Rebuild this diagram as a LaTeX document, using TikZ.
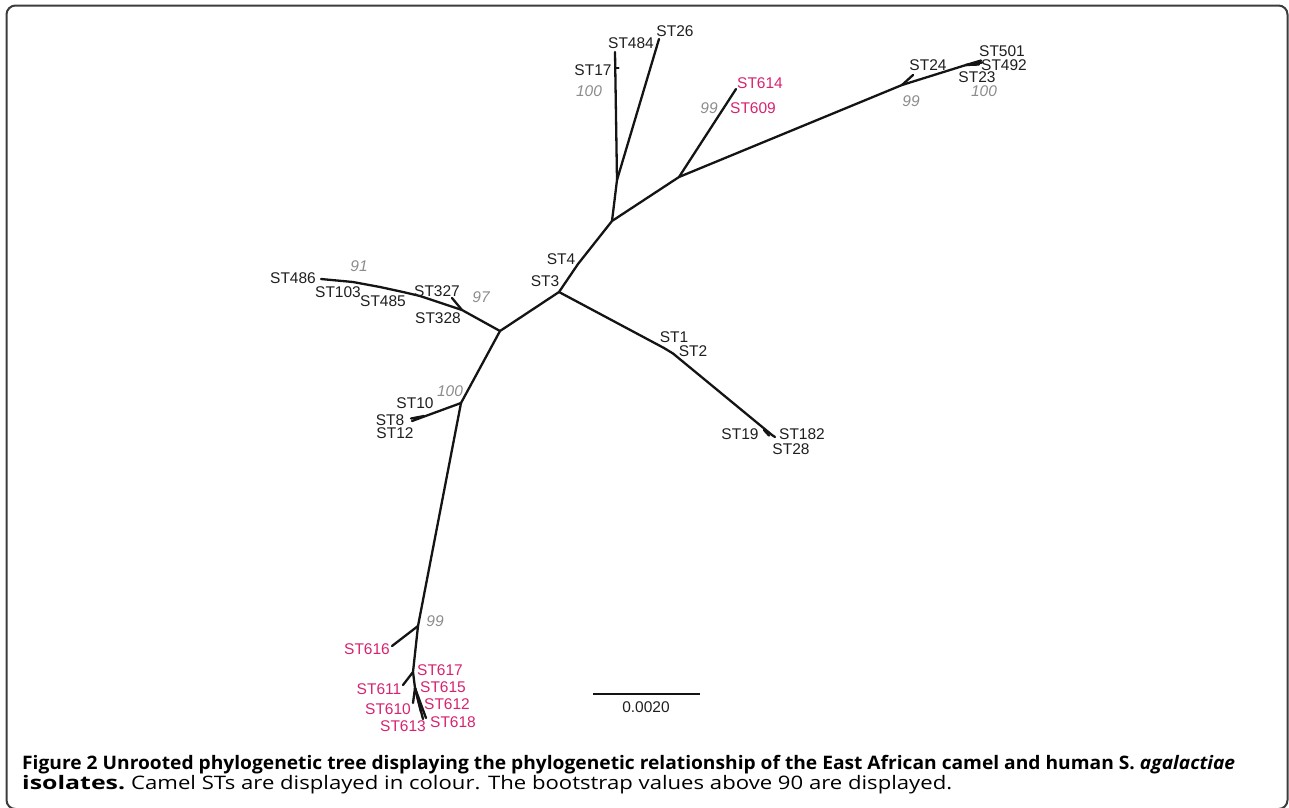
\documentclass[tikz,border=0pt]{standalone}
\usepackage{fontspec}
\setmainfont{Liberation Sans}
\newfontfamily\capfont{Open Sans}
\definecolor{camel}{RGB}{214,36,112}
\definecolor{boot}{RGB}{140,140,140}
\definecolor{framec}{RGB}{60,60,60}
\newsavebox\capboxA
\newsavebox\capboxB
\newsavebox\capboxC
\newdimen\capw
\newdimen\capwb
\newdimen\capwi
\begin{document}
\sbox\capboxA{\capfont\fontsize{18.6}{20}\selectfont\bfseries Figure 2 Unrooted phylogenetic tree displaying the phylogenetic relationship of the East African camel and human S. \textit{agalactiae}}%
\sbox\capboxB{\capfont\fontsize{18.6}{20}\selectfont\bfseries isolates.}%
\sbox\capboxC{\capfont\fontsize{18.6}{20}\selectfont Camel STs are displayed in colour. The bootstrap values above 90 are displayed.}%
\capw=\wd\capboxA
\capwb=\wd\capboxC
\capwi=\wd\capboxB
\pgfmathsetmacro\capsx{1213/\capw}%
\pgfmathsetmacro\capsxb{821/\capwb}%
\pgfmathsetmacro\capsxi{103/\capwi}%
\begin{tikzpicture}[x=1pt,y=-1pt,
  br/.style={line width=2.3pt, line cap=round, line join=round, black!92},
  lab/.style={font=\fontsize{15.5}{17}\selectfont, inner sep=0pt, text=black!88},
  cam/.style={lab, text=camel},
  bs/.style={font=\fontsize{15.5}{17}\selectfont\itshape, text=boot, inner sep=0pt}]
\useasboundingbox (0,0) rectangle (1289,807);
\draw[line width=2pt, framec, rounded corners=9pt] (6.5,5.5) rectangle (1287.5,809);

% ---- tree coordinates ----
\coordinate (n3) at (559,292);
\coordinate (k4) at (578,264);
\coordinate (n4) at (612,221);
\coordinate (n17) at (617,180);
\coordinate (t484) at (615,52);
\coordinate (t26) at (659,39);
\coordinate (n609) at (679,177);
\coordinate (t614) at (736,89);
\coordinate (n24) at (902,85);
\coordinate (t24) at (913,75);
\coordinate (c23) at (966,65);
\coordinate (nl) at (500,331);
\coordinate (n327) at (462,310);
\coordinate (t327) at (452,298);
\coordinate (t486) at (321,279);
\coordinate (n10) at (461,403);
\coordinate (t8) at (412,421);
\coordinate (n99) at (418,626);
\coordinate (t616) at (392,646);
\coordinate (n611) at (413,672);
\coordinate (t611) at (403,685);
\coordinate (n615) at (415,688);
\coordinate (k1) at (664,348);
\coordinate (t19) at (772,435);
\coordinate (sbl) at (593,694);
\coordinate (sbr) at (700,694);

% ---- branches ----
\draw[br] (n3) -- (k4) -- (n4);
\draw[br] (n4) -- (n17) -- (t484);
\draw[br] (615,68) -- (618.5,68);
\draw[br] (n17) -- (t26);
\draw[br] (n4) -- (n609) -- (t614);
\draw[br] (n609) -- (n24) -- (c23);
\draw[br] (n24) -- (t24);
\draw[br] (c23) -- (981,60.5);
\draw[br] (c23) -- (982,62.5);
\draw[br] (c23) -- (979,64.5);
\draw[br] (n3) -- (nl);
\draw[br] (nl) -- (n327) -- (420,296) -- (403,292) -- (380,287) -- (353,282) -- (t486);
\draw[br] (n327) -- (t327);
\draw[br] (nl) -- (n10);
\draw[br] (n10) -- (t8);
\draw[br] (424,416) -- (411,418.5);
\draw[br] (n10) -- (n99);
\draw[br] (n99) -- (t616);
\draw[br] (n99) -- (n611) -- (t611);
\draw[br] (n611) -- (n615);
\draw[br] (n615) -- (413,703);
\draw[br] (n615) -- (426,718);
\draw[br] (n615) -- (423,719);
\draw[br] (n615) -- (421,712);
\draw[br] (n3) -- (k1) -- (673,353.5) -- (t19);
\draw[br] (t19) -- (775,437);
\draw[br] (764,430) -- (769,435.5);
\draw[line width=2pt, black!92] (sbl) -- (sbr);

% ---- labels ----
\node[lab] (lST3) at (545,281) {ST3};
\node[lab] (lST4) at (561,259) {ST4};
\node[lab] (lST17) at (593,70) {ST17};
\node[lab] (lST484) at (631,43) {ST484};
\node[lab] (lST26) at (675,31) {ST26};
\node[bs] (b17) at (589,91) {100};
\node[cam] (lST614) at (760,83) {ST614};
\node[cam] (lST609) at (753,108) {ST609};
\node[bs] (b609) at (709,108) {99};
\node[lab] (lST24) at (928,65) {ST24};
\node[lab] (lST501) at (1002,51) {ST501};
\node[lab] (lST492) at (1004,65) {ST492};
\node[lab] (lST23) at (977,77) {ST23};
\node[bs] (b23) at (984,91) {100};
\node[bs] (b24) at (911,101) {99};
\node[lab] (lST486) at (293,278) {ST486};
\node[bs] (b91) at (359,266) {91};
\node[lab] (lST103) at (338,292) {ST103};
\node[lab] (lST485) at (383,301) {ST485};
\node[lab] (lST327) at (437,291) {ST327};
\node[lab] (lST328) at (438,318) {ST328};
\node[bs] (b97) at (481,297) {97};
\node[lab] (lST10) at (415,403) {ST10};
\node[bs] (b10) at (450,391) {100};
\node[lab] (lST8) at (390,420) {ST8};
\node[lab] (lST12) at (395,433) {ST12};
\node[lab] (lST1) at (674,337) {ST1};
\node[lab] (lST2) at (693,351) {ST2};
\node[lab] (lST19) at (740,434) {ST19};
\node[lab] (lST182) at (802,434) {ST182};
\node[lab] (lST28) at (791,449) {ST28};
\node[bs] (b99) at (435,621) {99};
\node[cam] (lST616) at (367,649) {ST616};
\node[cam] (lST617) at (440,670) {ST617};
\node[cam] (lST611) at (379,689) {ST611};
\node[cam] (lST615) at (443,687) {ST615};
\node[cam] (lST610) at (388,709) {ST610};
\node[cam] (lST612) at (447,704) {ST612};
\node[cam] (lST613) at (403,726) {ST613};
\node[cam] (lST618) at (453,722) {ST618};
\node[lab] (scale) at (646,707) {0.0020};

% ---- caption ----
\node[anchor=base west, inner sep=0pt] (cap1) at (22,769) {\scalebox{\capsx}[1]{\usebox\capboxA}};
\node[anchor=base west, inner sep=0pt] (cap2) at (22,789) {\scalebox{\capsxi}[1]{\usebox\capboxB}};
\node[anchor=base west, inner sep=0pt] (cap3) at (131,789) {\scalebox{\capsxb}[1]{\usebox\capboxC}};
\end{tikzpicture}
\end{document}
